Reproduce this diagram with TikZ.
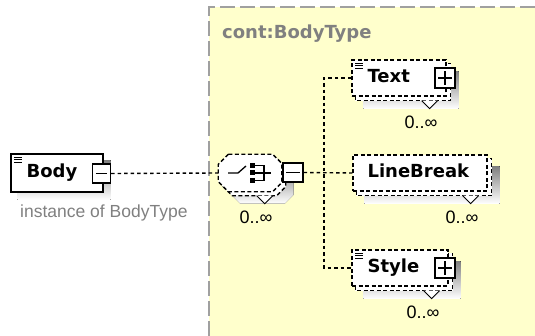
\documentclass[tikz,border=0pt]{standalone}
\usepackage{fontspec}
\setmainfont{Liberation Sans}
\newfontfamily\namefont{DejaVu Sans}
\usetikzlibrary{calc,positioning}
\pgfdeclarelayer{bg}
\pgfdeclarelayer{shadows}
\pgfsetlayers{bg,shadows,main}
\definecolor{typefill}{RGB}{255,255,204}
\definecolor{typeframe}{RGB}{160,160,160}
\definecolor{shade}{RGB}{192,192,192}
\definecolor{note}{RGB}{128,128,128}
\tikzset{
  elembox/.style={draw,fill=white,line width=1.3pt,inner sep=0pt,minimum height=36pt},
  optbox/.style={elembox,dash pattern=on 4pt off 2.5pt},
  dashbox/.style={draw,fill=white,line width=1.3pt,dash pattern=on 4pt off 2.5pt},
  tgl/.style={draw,fill=white,line width=1.2pt,inner sep=0pt,minimum width=19pt,minimum height=19pt},
  sign/.style={line width=1.3pt},
  conn/.style={line width=1.4pt,dash pattern=on 3.5pt off 3pt},
  ename/.style={font=\namefont\bfseries\fontsize{18}{20}\selectfont,inner sep=0pt},
  occurs/.style={font=\fontsize{18}{20}\selectfont,inner sep=0pt},
  notch/.style={fill=white,draw,line width=0.9pt},
  icon/.style={line width=1.3pt}
}
% octagon round a node, shifted by #2
\newcommand\seqshape[2]{($(#1.north west)+(#2)+(10,0)$) -- ($(#1.north east)+(#2)+(-9,0)$)
  -- ($(#1.north east)+(#2)+(0,9)$) -- ($(#1.south east)+(#2)+(0,-9)$)
  -- ($(#1.south east)+(#2)+(-9,0)$) -- ($(#1.south west)+(#2)+(10,0)$)
  -- ($(#1.south west)+(#2)+(0,-10)$) -- ($(#1.north west)+(#2)+(0,10)$) -- cycle}

\begin{document}
\begin{tikzpicture}[x=1pt,y=-1pt]
\useasboundingbox (0,0) rectangle (535,336);

% complex type area
\begin{pgfonlayer}{bg}
\fill[typefill] (209,7) rectangle (535,336);
\draw[typeframe,line width=1.5pt,dash pattern=on 15pt off 5pt] (209,336) -- (209,7) -- (535,7);
\end{pgfonlayer}
\node[ename,text=note,anchor=base west] (typename) at (222,39) {cont:BodyType};

% element Body
\node[elembox,minimum width=92pt,minimum height=38pt] (body) at (57,173) {};
\node[ename,anchor=base west] (bodytxt) at ($(body.west)+(16,5)$) {Body};
\node[tgl,minimum width=18pt] (bodytgl) at (101.5,173.5) {};
\node[font=\fontsize{17.5}{19}\selectfont,text=note,inner sep=0pt,anchor=base west] (bodynote) at (20,218) {instance of BodyType};
\begin{pgfonlayer}{shadows}
\fill[shade] ($(body.north west)+(7,7)$) rectangle ($(body.south east)+(7,7)$);
\end{pgfonlayer}

% sequence
\node[inner sep=0pt,minimum width=63pt,minimum height=37pt] (seq) at (250,173) {};
\begin{pgfonlayer}{shadows}
\fill[shade] \seqshape{seq}{12,12};
\draw[dashbox] \seqshape{seq}{4,4};
\draw[notch] ($(seq.south east)+(-25,4)$) -- ++(8,8) -- ++(8,-8);
\end{pgfonlayer}
\draw[dashbox] \seqshape{seq}{0,0};
\draw[icon] ($(seq.center)+(-22,0)$) -- ++(10,0) -- ++(8,-7);
\foreach \dy in {-7.5,0,7.5}
  \fill ($(seq.center)+(0,\dy-2.5)$) rectangle ++(5,5);
\draw[icon] ($(seq.center)+(5,-7.5)$) -- ++(9,0) -- ++(0,15) -- ++(-9,0);
\draw[icon] ($(seq.center)+(5,0)$) -- ++(16,0);
\node[tgl,minimum width=20pt] (seqtgl) at (293,172.5) {};
\node[occurs,anchor=base east] (seqocc) at ($(seq.south east)+(-9,32)$) {0..∞};

% child elements
\node[optbox,minimum width=94pt] (text) at (399,78) {};
\node[optbox,minimum width=134pt] (linebreak) at (420,173) {};
\node[optbox,minimum width=96pt] (style) at (400,268) {};
\begin{pgfonlayer}{shadows}
\foreach \e in {text,linebreak,style}{
  \fill[shade] ($(\e.north west)+(12,12)$) rectangle ($(\e.south east)+(12,12)$);
  \draw[dashbox] ($(\e.north west)+(4,4)$) rectangle ($(\e.south east)+(4,4)$);
  \draw[notch] ($(\e.south east)+(-25,4)$) -- ++(8,8) -- ++(8,-8);
}
\end{pgfonlayer}
\foreach \e in {text,linebreak,style}
  \node[occurs,anchor=base east] (\e-occ) at ($(\e.south east)+(-9,32)$) {0..∞};
\node[ename,anchor=base west] (texttxt) at ($(text.west)+(16,5)$) {Text};
\node[ename,anchor=base west] (linebreaktxt) at ($(linebreak.west)+(15,5)$) {LineBreak};
\node[ename,anchor=base west] (styletxt) at ($(style.west)+(16,5)$) {Style};
\node[tgl,minimum width=20pt,minimum height=20pt] (texttgl) at (445,78) {};
\node[tgl,minimum width=20pt,minimum height=20pt] (styletgl) at (445,268) {};

% content marks
\foreach \e in {body,text,style}
  \foreach \dy in {4,6.5,9}
    \draw[line width=0.9pt] ($(\e.north west)+(4,\dy)$) -- ++(8,0);

% plus / minus signs
\foreach \t in {bodytgl,seqtgl,texttgl,styletgl}
  \draw[sign] ($(\t.west)+(4,0)$) -- ($(\t.east)+(-4,0)$);
\foreach \t in {texttgl,styletgl}
  \draw[sign] ($(\t.north)+(0,4)$) -- ($(\t.south)+(0,-4)$);

% connectors
\coordinate (fork) at (324,173);
\draw[conn] (bodytgl.east) -- (seq.west);
\draw[conn] (seqtgl.east) -- (linebreak.west);
\draw[conn] (text.west) -| (fork) |- (style.west);
\end{tikzpicture}
\end{document}
